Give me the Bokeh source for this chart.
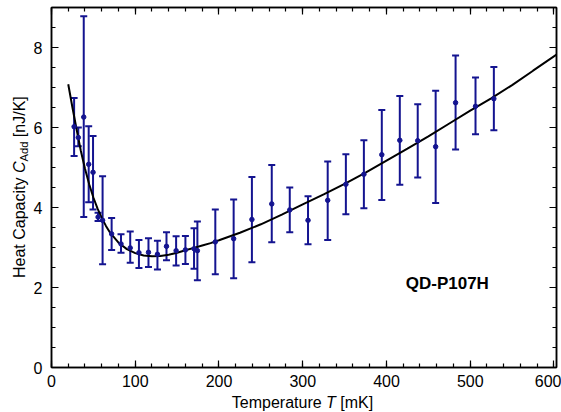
from bokeh.plotting import figure
from bokeh.models import (ColumnDataSource, Whisker, TeeHead, Label, LinearAxis,
                          FixedTicker, Range1d, Div, CustomJSTickFormatter)
from bokeh.layouts import row, column
from bokeh.embed import file_html
from bokeh.resources import INLINE

# ---------------- data ----------------
temperature = [27, 32, 38.5, 44.4, 49.6, 55.6, 61, 71.8, 83, 94, 104.4, 115.8,
               126.5, 137.3, 148.8, 159.9, 170.2, 174.2, 195.6, 217.5, 239.3,
               263, 284.5, 306.3, 329.8, 351.5, 373, 394.4, 415.9, 437.3,
               458.7, 482.5, 506.3, 528.2]
heat_cap = [6.02, 5.75, 6.26, 5.08, 4.88, 3.76, 3.68, 3.34, 3.09, 2.99, 2.87,
            2.88, 2.83, 3.03, 2.92, 2.94, 2.97, 2.92, 3.14, 3.22, 3.70, 4.09,
            3.94, 3.68, 4.18, 4.58, 4.83, 5.32, 5.68, 5.67, 5.52, 6.62, 6.53,
            6.72]
err_upper = [6.74, 6.00, 8.78, 6.03, 5.79, 3.87, 4.78, 3.74, 3.33, 3.40, 3.19,
             3.23, 3.17, 3.38, 3.28, 3.29, 3.48, 3.65, 3.95, 4.20, 4.76, 5.06,
             4.50, 4.28, 5.15, 5.33, 5.68, 6.44, 6.79, 6.58, 6.92, 7.80, 7.25,
             7.51]
err_lower = [5.29, 5.53, 3.76, 4.13, 3.95, 3.66, 2.58, 2.94, 2.87, 2.62, 2.49,
             2.51, 2.45, 2.68, 2.55, 2.59, 2.47, 2.18, 2.33, 2.23, 2.63, 3.13,
             3.38, 3.08, 3.19, 3.83, 3.98, 4.19, 4.57, 4.75, 4.11, 5.45, 5.83,
             5.93]

fit_T = [20, 25, 30, 35, 40, 45, 50, 55, 60, 65, 70, 80, 90, 100, 110, 120,
         130, 140, 150, 160, 170, 180, 190, 200, 225, 250, 275, 300, 325, 350,
         375, 400, 425, 450, 475, 500, 525, 550, 575, 603]
fit_C = [7.08, 6.50, 5.95, 5.42, 4.97, 4.58, 4.25, 3.97, 3.74, 3.54, 3.37,
         3.12, 2.96, 2.86, 2.80, 2.78, 2.79, 2.82, 2.87, 2.93, 2.99, 3.05,
         3.11, 3.18, 3.37, 3.58, 3.82, 4.08, 4.33, 4.59, 4.87, 5.17, 5.47,
         5.78, 6.10, 6.42, 6.73, 7.06, 7.42, 7.82]

x_ticks = [0, 100, 200, 300, 400, 500, 600]
y_ticks = [0, 2, 4, 6, 8]
sample_name = "QD-P107H"
x_title = 'Temperature <i>T</i> [mK]'
y_title = 'Heat Capacity <i>C</i><sub style="font-size:70%">Add</sub> [nJ/K]'

# ---------------- styling ----------------
FONT = "Liberation Sans"
NAVY = "#141490"
FS = 16
LEFT_W = 30       # width of the y-title column
FIG_W, FIG_H = 531, 393

p = figure(width=FIG_W, height=FIG_H, output_backend="svg",
           toolbar_location=None,
           x_range=Range1d(0, 603), y_range=Range1d(0, 9),
           min_border_left=19, min_border_right=5, min_border_top=7,
           min_border_bottom=26, x_axis_location=None, y_axis_location=None,
           margin=0)
p.xgrid.visible = False
p.ygrid.visible = False
p.outline_line_color = "black"
p.outline_line_width = 1.5
p.background_fill_color = "white"
p.border_fill_color = "white"

xt = FixedTicker(ticks=x_ticks, minor_ticks=list(range(0, 601, 20)))
yt = FixedTicker(ticks=y_ticks, minor_ticks=[i * 0.5 for i in range(0, 19)])


def style_axis(ax, labels=True):
    ax.axis_line_width = 1.5
    ax.axis_line_color = "black"
    ax.major_tick_in = 7
    ax.major_tick_out = 0
    ax.minor_tick_in = 4
    ax.minor_tick_out = 0
    ax.major_tick_line_width = 1.2
    ax.minor_tick_line_width = 1.2
    if labels:
        ax.major_label_text_font = FONT
        ax.major_label_text_font_size = f"{FS}px"
        ax.major_label_text_color = "black"
        ax.major_label_standoff = 7
    else:
        ax.formatter = CustomJSTickFormatter(code="return ''")
        ax.major_label_text_font_size = "1px"
        ax.major_label_standoff = 0


bottom = LinearAxis(ticker=xt)
style_axis(bottom)
left = LinearAxis(ticker=yt)
style_axis(left)
left.major_label_standoff = 9
top = LinearAxis(ticker=xt)
style_axis(top, labels=False)
right = LinearAxis(ticker=yt)
style_axis(right, labels=False)
p.add_layout(bottom, "below")
p.add_layout(left, "left")
p.add_layout(top, "above")
p.add_layout(right, "right")

# ---------------- glyphs ----------------
src = ColumnDataSource(dict(x=temperature, y=heat_cap,
                            upper=err_upper, lower=err_lower))
p.line(fit_T, fit_C, line_color="black", line_width=2)
wh = Whisker(source=src, base="x", upper="upper", lower="lower",
             line_color=NAVY, line_width=2,
             upper_head=TeeHead(size=7, line_color=NAVY, line_width=2),
             lower_head=TeeHead(size=7, line_color=NAVY, line_width=2))
p.add_layout(wh)
p.scatter("x", "y", source=src, size=4.5, fill_color=NAVY, line_color=NAVY)

p.add_layout(Label(x=423, y=2.1, text=sample_name, text_font=FONT,
                   text_font_size="17px", text_font_style="bold",
                   text_color="black", text_baseline="alphabetic"))

# ---------------- axis titles (HTML, for italics and subscript) ----------------
font_css = f"font-family:'{FONT}'; font-size:{FS}px; color:black;"
ydiv = Div(width=LEFT_W, height=FIG_H, margin=0, text=(
    f'<div style="position:relative; width:{LEFT_W}px; height:{FIG_H}px;">'
    f'<div style="position:absolute; left:11px; top:0px; height:374px; '
    f'width:18px; writing-mode:vertical-rl; transform:rotate(180deg); '
    f'text-align:center; white-space:nowrap; line-height:18px; {font_css}">'
    f'{y_title}</div></div>'))
xdiv = Div(width=LEFT_W + FIG_W, height=19, margin=0, text=(
    f'<div style="margin-left:49px; width:507px; text-align:center; '
    f'white-space:nowrap; line-height:19px; {font_css}">{x_title}</div>'))

layout = column(row(ydiv, p, spacing=0), xdiv, spacing=0)

open("out.html", "w").write(file_html(layout, INLINE))
